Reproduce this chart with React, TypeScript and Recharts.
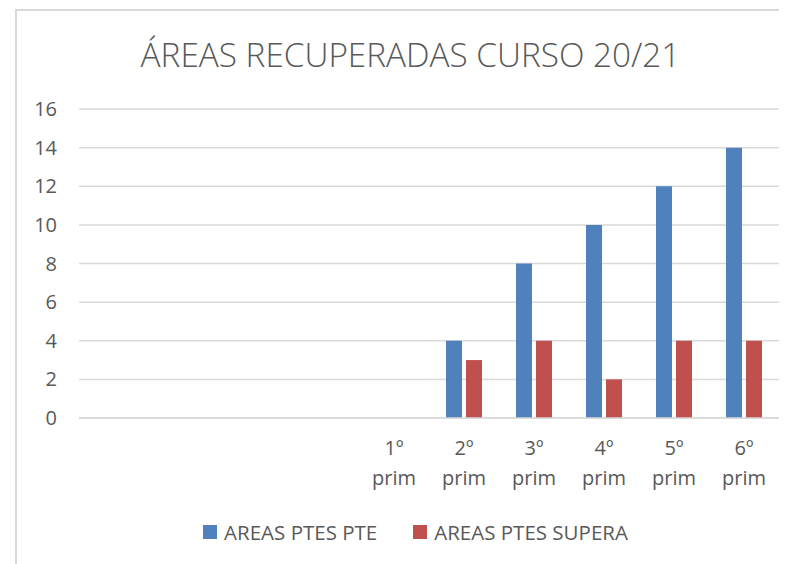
import { BarChart, Bar, XAxis, YAxis, CartesianGrid, Legend } from "recharts";

const categories = ["", "", "", "", "1º prim", "2º prim", "3º prim", "4º prim", "5º prim", "6º prim"];
const ptesPte = [null, null, null, null, 0, 4, 8, 10, 12, 14];
const ptesSupera = [null, null, null, null, 0, 3, 4, 2, 4, 4];
const yTicks = [0, 2, 4, 6, 8, 10, 12, 14, 16];

const TITLE = "ÁREAS RECUPERADAS CURSO 20/21";
const FONT = "'Open Sans', 'Noto Sans', sans-serif";
const TEXT = "#595959";

const data = categories.map((c, i) => ({
  name: c,
  pte: ptesPte[i],
  supera: ptesSupera[i],
}));

function XTick(props: any) {
  const { x, y, payload } = props;
  const parts = String(payload.value || "").split(" ");
  return (
    <g transform={`translate(${x},${y})`}>
      <text textAnchor="middle" fill={TEXT} fontSize={20} fontFamily={FONT}>
        {payload.value
          ? parts.map((p, i) => (
              <tspan key={i} x={0} y={37 + i * 30}>
                {p}
              </tspan>
            ))
          : null}
      </text>
    </g>
  );
}

function LegendBox(props: any) {
  const items = props.payload || [];
  return (
    <div
      style={{
        display: "flex",
        justifyContent: "center",
        alignItems: "center",
        gap: 36,
        fontFamily: FONT,
        fontSize: 20.5,
        color: TEXT,
        height: 28,
      }}
    >
      {items.map((it: any) => (
        <div key={it.value} style={{ display: "flex", alignItems: "center" }}>
          <span style={{ width: 14, height: 14, background: it.color, marginRight: 7 }} />
          <span>{it.value}</span>
        </div>
      ))}
    </div>
  );
}

export default function App() {
  return (
    <div style={{ position: "relative", width: 779, height: 556, overflow: "hidden", background: "#fff" }}>
      <div
        style={{
          position: "absolute",
          left: 7,
          top: 1,
          width: 900,
          height: 700,
          borderLeft: "2px solid #d9d9d9",
          borderTop: "2px solid #d9d9d9",
        }}
      />
      <svg style={{ position: "absolute", left: 0, top: 0 }} width={779} height={90}>
        <text x={402.5} y={59} textAnchor="middle" fontSize={33.3} fontWeight={300} fill={TEXT} fontFamily={FONT}>
          {TITLE}
        </text>
      </svg>
      <div style={{ position: "absolute", left: 0, top: 0 }}>
        <BarChart
          width={779}
          height={556}
          data={data}
          margin={{ top: 101, right: 8, left: 0, bottom: 56 }}
          barSize={16}
          barGap={4}
        >
          <CartesianGrid vertical={false} stroke="#d9d9d9" strokeWidth={1.5} />
          <XAxis
            dataKey="name"
            height={90}
            tick={<XTick />}
            tickLine={false}
            tickSize={0}
            tickMargin={0}
            axisLine={{ stroke: "#d9d9d9", strokeWidth: 1.5 }}
            interval={0}
          />
          <YAxis
            width={71}
            domain={[0, 16]}
            ticks={yTicks}
            axisLine={false}
            tickLine={false}
            tickSize={0}
            tickMargin={22}
            tick={{ fill: TEXT, fontSize: 20, fontFamily: FONT }}
          />
          <Legend
            layout="horizontal"
            verticalAlign="middle"
            align="center"
            content={<LegendBox />}
            wrapperStyle={{ top: 510, left: 18, width: 779 }}
          />
          <Bar dataKey="pte" name="AREAS PTES PTE" fill="#4f81bd" isAnimationActive={false} />
          <Bar dataKey="supera" name="AREAS PTES SUPERA" fill="#c0504d" isAnimationActive={false} />
        </BarChart>
      </div>
    </div>
  );
}
